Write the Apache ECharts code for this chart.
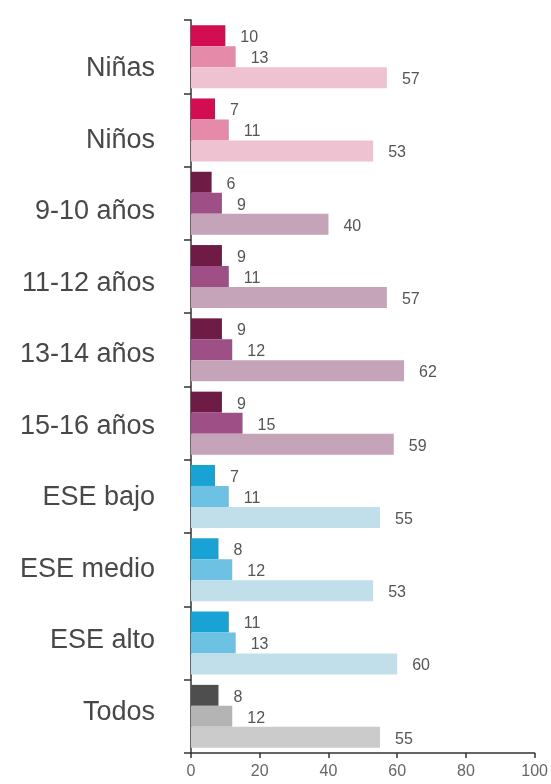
<!DOCTYPE html>
<html>
<head>
<meta charset="utf-8">
<script src="https://cdn.jsdelivr.net/npm/echarts@6/dist/echarts.min.js"></script>
<style>
html,body{margin:0;padding:0;background:#fff;}
#chart{width:551px;height:784px;}
</style>
</head>
<body>
<div id="chart"></div>
<script>
const categories = ['Niñas','Niños','9-10 años','11-12 años','13-14 años','15-16 años','ESE bajo','ESE medio','ESE alto','Todos'];
const valuesDark  = [10, 7, 6, 9, 9, 9, 7, 8, 11, 8];
const valuesMid   = [13, 11, 9, 11, 12, 15, 11, 12, 13, 12];
const valuesLight = [57, 53, 40, 57, 62, 59, 55, 53, 60, 55];
const xTicks = [0, 20, 40, 60, 80, 100];

const groupType = ['sex','sex','age','age','age','age','ese','ese','ese','all'];
const palette = {
  sex: ['#d20d52', '#e68aa9', '#efc2d1'],
  age: ['#6e1c46', '#9e4f86', '#c5a3b9'],
  ese: ['#18a3d4', '#6dc2e3', '#c0dfeb'],
  all: ['#4e4e4e', '#b4b4b4', '#cbcbcb']
};

function seriesData(vals, shade) {
  return vals.map((v, i) => ({ value: v, itemStyle: { color: palette[groupType[i]][shade] } }));
}

const font = '"Liberation Sans", Arial, sans-serif';
const valueLabel = { show: true, position: 'right', distance: 15, color: '#555', fontSize: 16, fontFamily: font, offset: [0, 2] };

const chart = echarts.init(document.getElementById('chart'), null, { renderer: 'canvas' });
chart.setOption({
  animation: false,
  grid: [
    { left: 191, right: 14, top: 20, bottom: 31, containLabel: false },
    { left: 191, right: 14, top: 33, bottom: 36, containLabel: false }
  ],
  xAxis: [
    {
      gridIndex: 0, type: 'value', min: 0, max: 100, interval: 20,
      axisLine: { show: true, lineStyle: { color: '#333', width: 1.5 } },
      axisTick: { show: true, length: 5, lineStyle: { color: '#333', width: 1.5 } },
      axisLabel: { color: '#666', fontSize: 16, fontFamily: font, margin: 11,
        formatter: v => xTicks.indexOf(v) >= 0 ? String(v) : '' },
      splitLine: { show: false }
    },
    { gridIndex: 1, type: 'value', min: 0, max: 100, show: false }
  ],
  yAxis: [
    {
      gridIndex: 0, type: 'category', data: categories, inverse: true,
      axisLine: { show: true, lineStyle: { color: '#333', width: 1.5 } },
      axisTick: { show: true, length: 7, lineStyle: { color: '#333', width: 1.5 } },
      axisLabel: { show: false }
    },
    {
      gridIndex: 1, type: 'category', data: categories, inverse: true,
      axisLine: { show: false }, axisTick: { show: false },
      axisLabel: { show: true, color: '#484848', fontSize: 27, fontFamily: font, margin: 36 }
    }
  ],
  series: [
    { type: 'bar', xAxisIndex: 0, yAxisIndex: 0, data: seriesData(valuesDark, 0), barWidth: 21, barGap: '0%', label: valueLabel },
    { type: 'bar', xAxisIndex: 0, yAxisIndex: 0, data: seriesData(valuesMid, 1), barWidth: 21, barGap: '0%', label: valueLabel },
    { type: 'bar', xAxisIndex: 0, yAxisIndex: 0, data: seriesData(valuesLight, 2), barWidth: 21, barGap: '0%', label: valueLabel }
  ]
});
</script>
</body>
</html>
